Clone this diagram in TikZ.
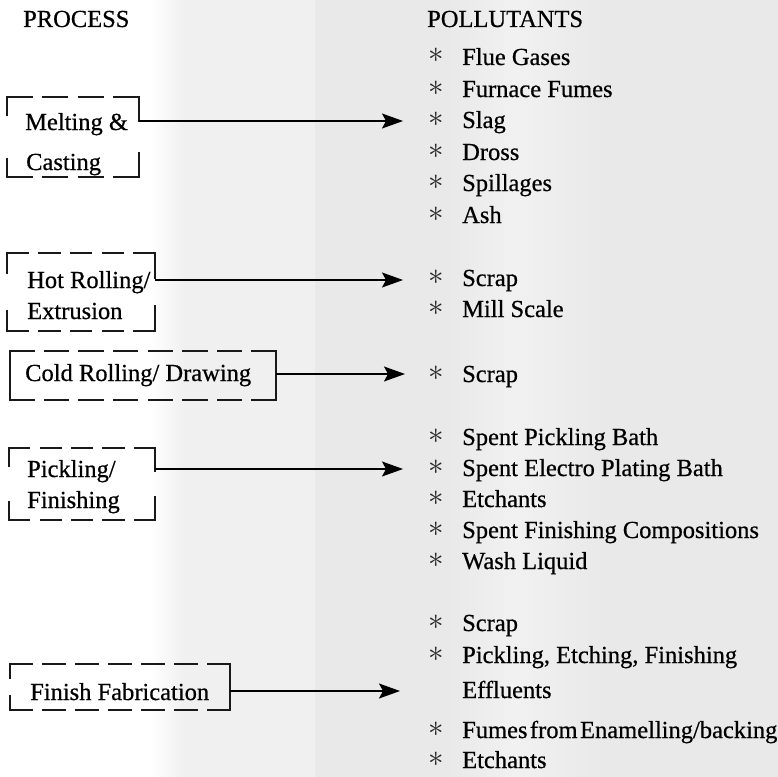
\documentclass[tikz,border=0pt]{standalone}
\usepackage{fontspec}
\setmainfont{Liberation Serif}
\newfontfamily\scanfont{Liberation Serif}[FakeBold=0.6]
\usetikzlibrary{arrows.meta,fit}
\tikzset{
  txt/.style={anchor=base west, inner sep=0pt, text=black, font=\scanfont\fontsize{24.5bp}{30bp}\selectfont},
  bul/.style={anchor=base, inner sep=0pt, text=black!85, font=\scanfont\fontsize{24.5bp}{30bp}\selectfont},
  pbox/.style={inner sep=0pt, outer sep=0pt, draw=none},
  boxline/.style={line width=1.8bp, line cap=rect, black!90},
  arr/.style={line width=1.2bp, black, -{Stealth[length=21bp,width=15bp,inset=4bp]}},
}
% #1 box name, #2 box width (bp), #3 left side segment, #4 right side segment
\newcommand{\pframe}[4]{%
  \pgfmathsetmacro\pfn{round((#2+11)/33)}%
  \pgfmathsetmacro\pfd{(#2-(\pfn-1)*11)/\pfn}%
  \draw[boxline, dash pattern=on \pfd bp off 11bp] (#1.north west) -- (#1.north east);
  \draw[boxline, dash pattern=on \pfd bp off 11bp] (#1.south west) -- (#1.south east);
  \draw[boxline] (#1.north west) -- ++(0,#3);
  \draw[boxline] (#1.south west) -- ++(0,-#3);
  \draw[boxline] (#1.north east) -- ++(0,#4);
  \draw[boxline] (#1.south east) -- ++(0,-#4);
}
\newcommand{\starmark}{\raisebox{2bp}{\scalebox{1.25}{$\ast$}}}
\begin{document}
\begin{tikzpicture}[x=1bp,y=-1bp]
\useasboundingbox (0,0) rectangle (778,777);
% scanned background
\fill[white] (0,0) rectangle (778,777);
\shade[left color=white,right color=gray!12] (150,0) rectangle (185,777);
\fill[gray!12] (185,0) rectangle (315,777);
\fill[gray!17] (315,0) rectangle (778,777);
\shade[left color=gray!17,right color=gray!11] (450,0) rectangle (515,777);
\shade[left color=gray!11,right color=gray!17] (515,0) rectangle (600,777);

% headings
\node[txt] (hproc) at (23,27) {PROCESS};
\node[txt] (hpoll) at (427,27) {POLLUTANTS};

% process boxes
\node[pbox, fit={(7,97) (139,177)}] (melt) {};
\node[pbox, fit={(7,253) (155,331)}] (hot) {};
\node[pbox, fit={(10,351) (276,400)}] (cold) {};
\node[pbox, fit={(9,448) (155,520)}] (pick) {};
\node[pbox, fit={(10,664) (230,710)}] (fin) {};
\pframe{melt}{132}{18}{24}
\pframe{hot}{148}{20}{25}
\pframe{cold}{266}{25}{25}
\pframe{pick}{146}{18}{23}
\pframe{fin}{220}{14}{23}

\node[txt] (melt1) at (25,130) {Melting \&};
\node[txt] (melt2) at (26,170) {Casting};
\node[txt] (hot1) at (27,288) {Hot Rolling/};
\node[txt] (hot2) at (27,319) {Extrusion};
\node[txt] (cold1) at (25,381) {Cold Rolling/ Drawing};
\node[txt] (pick1) at (27,477) {Pickling/};
\node[txt] (pick2) at (27,508) {Finishing};
\node[txt] (fin1) at (30,700) {Finish Fabrication};

% arrow tips
\coordinate (tmelt) at (403,121);
\coordinate (thot) at (403,280);
\coordinate (tcold) at (405,374);
\coordinate (tpick) at (403,469);
\coordinate (tfin) at (400,691);
\draw[arr] (tmelt -| melt.east) -- (tmelt);
\draw[arr] (thot -| hot.east) -- (thot);
\draw[arr] (tcold -| cold.east) -- (tcold);
\draw[arr] (tpick -| pick.east) -- (tpick);
\draw[arr] (tfin -| fin.east) -- (tfin);

% pollutants
\newcommand{\bulx}{436}
\newcommand{\txx}{462}
\node[bul] (s1) at (\bulx,65) {\starmark};
\node[txt] (p1) at (\txx,65) {Flue Gases};
\node[bul] (s2) at (\bulx,97) {\starmark};
\node[txt] (p2) at (\txx,97) {Furnace Fumes};
\node[bul] (s3) at (\bulx,128) {\starmark};
\node[txt] (p3) at (\txx,128) {Slag};
\node[bul] (s4) at (\bulx,160) {\starmark};
\node[txt] (p4) at (\txx,160) {Dross};
\node[bul] (s5) at (\bulx,191) {\starmark};
\node[txt] (p5) at (\txx,191) {Spillages};
\node[bul] (s6) at (\bulx,223) {\starmark};
\node[txt] (p6) at (\txx,223) {Ash};

\node[bul] (s7) at (\bulx,286) {\starmark};
\node[txt] (p7) at (\txx,286) {Scrap};
\node[bul] (s8) at (\bulx,317) {\starmark};
\node[txt] (p8) at (\txx,317) {Mill Scale};

\node[bul] (s9) at (\bulx,382) {\starmark};
\node[txt] (p9) at (\txx,382) {Scrap};

\node[bul] (s10) at (\bulx,445) {\starmark};
\node[txt] (p10) at (\txx,445) {Spent Pickling Bath};
\node[bul] (s11) at (\bulx,476) {\starmark};
\node[txt] (p11) at (\txx,476) {Spent Electro Plating Bath};
\node[bul] (s12) at (\bulx,507) {\starmark};
\node[txt] (p12) at (\txx,507) {Etchants};
\node[bul] (s13) at (\bulx,538) {\starmark};
\node[txt] (p13) at (\txx,538) {Spent Finishing Compositions};
\node[bul] (s14) at (\bulx,569) {\starmark};
\node[txt] (p14) at (\txx,569) {Wash Liquid};

\node[bul] (s15) at (\bulx,631) {\starmark};
\node[txt] (p15) at (\txx,631) {Scrap};
\node[bul] (s16) at (\bulx,663) {\starmark};
\node[txt] (p16) at (\txx,663) {Pickling, Etching, Finishing};
\node[txt] (p16b) at (\txx,698) {Effluents};
\node[bul] (s17) at (\bulx,738) {\starmark};
\node[txt] (p17) at (\txx,738) {\spaceskip=0.1em Fumes from Enamelling/backing};
\node[bul] (s18) at (\bulx,768) {\starmark};
\node[txt] (p18) at (\txx,768) {Etchants};
\end{tikzpicture}
\end{document}
